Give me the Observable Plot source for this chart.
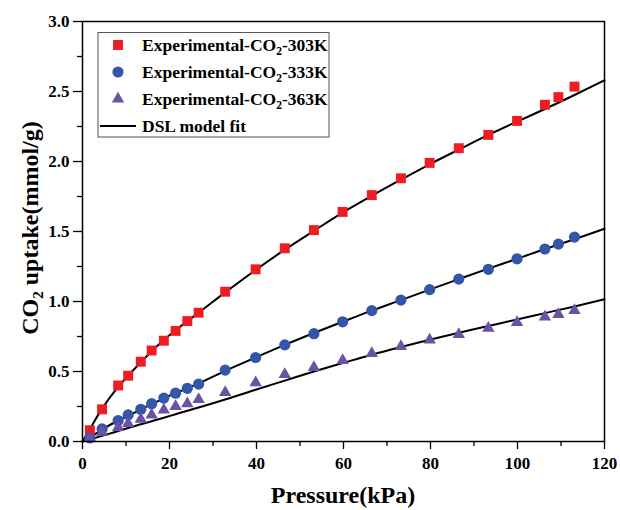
<!DOCTYPE html>
<html><head><meta charset="utf-8">
<script src="https://cdn.jsdelivr.net/npm/d3@7"></script>
<script src="https://cdn.jsdelivr.net/npm/@observablehq/plot@0.6"></script>
<style>html,body{margin:0;padding:0;background:#fff}</style>
</head><body><div id="chart"></div>
<script>
// Experimental pressures (kPa), shared by the three isotherms
const pressure = [1.7, 4.5, 8.2, 10.5, 13.4, 15.9, 18.7, 21.4, 24.1, 26.7, 32.8, 39.8, 46.5, 53.2, 59.8, 66.5, 73.2, 79.8, 86.5, 93.3, 99.9, 106.3, 109.4, 113.1];
const uptake303 = [0.08, 0.23, 0.40, 0.47, 0.57, 0.65, 0.72, 0.79, 0.86, 0.92, 1.07, 1.23, 1.38, 1.51, 1.64, 1.76, 1.88, 1.99, 2.095, 2.19, 2.29, 2.405, 2.46, 2.535];
const uptake333 = [0.025, 0.09, 0.15, 0.19, 0.23, 0.27, 0.31, 0.345, 0.38, 0.41, 0.51, 0.60, 0.69, 0.77, 0.855, 0.935, 1.01, 1.085, 1.16, 1.23, 1.305, 1.375, 1.41, 1.46];
const uptake363 = [0.025, 0.066, 0.10, 0.13, 0.16, 0.19, 0.225, 0.25, 0.27, 0.30, 0.35, 0.42, 0.48, 0.53, 0.58, 0.63, 0.68, 0.725, 0.765, 0.81, 0.85, 0.89, 0.907, 0.936];

// DSL model fit curves
const fitPressure = [0, 1.7, 4.5, 8.2, 10.5, 13.4, 15.9, 18.7, 21.4, 24.1, 26.7, 32.8, 39.8, 46.5, 53.2, 59.8, 66.5, 73.2, 79.8, 86.5, 93.3, 99.9, 106.3, 113.1, 120];
const fit303 = [0, 0.09, 0.235, 0.39, 0.47, 0.565, 0.645, 0.725, 0.795, 0.86, 0.92, 1.065, 1.225, 1.37, 1.505, 1.635, 1.755, 1.87, 1.98, 2.085, 2.19, 2.285, 2.375, 2.475, 2.58];
const fit333 = [0, 0.028, 0.085, 0.15, 0.185, 0.228, 0.268, 0.308, 0.345, 0.38, 0.415, 0.505, 0.60, 0.69, 0.775, 0.855, 0.935, 1.01, 1.085, 1.16, 1.235, 1.305, 1.375, 1.445, 1.52];
const fit363 = [0, 0.015, 0.04, 0.075, 0.097, 0.123, 0.145, 0.17, 0.195, 0.22, 0.243, 0.30, 0.37, 0.435, 0.50, 0.56, 0.62, 0.675, 0.727, 0.777, 0.825, 0.872, 0.917, 0.965, 1.016];

const xMajor = [0, 20, 40, 60, 80, 100, 120];
const xMinor = [10, 30, 50, 70, 90, 110];
const yMajor = [0, 0.5, 1.0, 1.5, 2.0, 2.5, 3.0];
const yMinor = [0.25, 0.75, 1.25, 1.75, 2.25, 2.75];

const seriesNames = ["303K", "333K", "363K"];
const seriesColors = ["#ee1c25", "#3456a8", "#6a52a4"];
const seriesSymbols = ["square", "circle", "triangle"];
const seriesR = [5.6, 5.6, 4.6];
const uptakes = [uptake303, uptake333, uptake363];
const fits = [fit303, fit333, fit363];

const FONT = "'Liberation Serif', 'Times New Roman', serif";

const pts = uptakes.map(u => pressure.map((p, i) => ({p, u: u[i]})));
const fitRows = fits.map(f => fitPressure.map((p, i) => ({p, u: f[i]})));

const chart = Plot.plot({
  width: 620, height: 510,
  marginLeft: 82, marginRight: 16, marginTop: 21, marginBottom: 69,
  x: {domain: [0, 120]},
  y: {domain: [0, 3]},
  style: {fontFamily: FONT, fontSize: "17px", fontWeight: "bold", color: "#000", background: "#fff"},
  marks: [
    Plot.axisY(yMinor, {tickSize: 5, tickFormat: () => "", label: null, strokeWidth: 1.3}),
    Plot.axisY(yMajor, {tickSize: 9, tickPadding: 4, tickFormat: d3.format(".1f"), label: null, strokeWidth: 1.3}),
    Plot.axisX(xMinor, {tickSize: 5, tickFormat: () => "", label: null, strokeWidth: 1.3}),
    Plot.axisX(xMajor, {tickSize: 8, tickPadding: 7, label: null, strokeWidth: 1.3}),
    ...fitRows.map(rows => Plot.line(rows, {x: "p", y: "u", stroke: "#000", strokeWidth: 2, curve: "monotone-x"})),
    ...pts.map((rows, k) => Plot.dot(rows, {x: "p", y: "u", symbol: seriesSymbols[k], r: seriesR[k], fill: seriesColors[k]})),
    Plot.frame({stroke: "#000", strokeWidth: 1.5})
  ]
});
document.getElementById("chart").appendChild(chart);

const svg = d3.select(chart);

// Axis titles
const yl = svg.append("text")
  .attr("transform", "translate(38,228) rotate(-90)")
  .attr("text-anchor", "middle")
  .attr("font-family", FONT).attr("font-weight", "bold").attr("font-size", 24).attr("fill", "#000");
yl.append("tspan").text("CO");
yl.append("tspan").attr("font-size", 15).attr("dy", 5).text("2");
yl.append("tspan").attr("dy", -5).text(" uptake(mmol/g)");

svg.append("text")
  .attr("x", 343).attr("y", 503)
  .attr("text-anchor", "middle")
  .attr("font-family", FONT).attr("font-weight", "bold").attr("font-size", 24).attr("fill", "#000")
  .text("Pressure(kPa)");

// Legend
const lg = svg.append("g").attr("text-anchor", "start");
lg.append("rect").attr("x", 98).attr("y", 32.5).attr("width", 231).attr("height", 104.5)
  .attr("fill", "#fff").attr("stroke", "#555").attr("stroke-width", 1);
const rowY = [45, 72, 99, 126];
const symMap = {square: d3.symbolSquare, circle: d3.symbolCircle, triangle: d3.symbolTriangle};
seriesNames.forEach((name, k) => {
  const r = seriesR[k];
  lg.append("path")
    .attr("transform", `translate(118,${rowY[k]})`)
    .attr("d", d3.symbol(symMap[seriesSymbols[k]], Math.PI * r * r)())
    .attr("fill", seriesColors[k]);
  const t = lg.append("text").attr("x", 142).attr("y", rowY[k] + 6)
    .attr("text-anchor", "start")
    .attr("font-family", FONT).attr("font-weight", "bold").attr("font-size", 17.5).attr("fill", "#000");
  t.append("tspan").text("Experimental-CO");
  t.append("tspan").attr("font-size", 11.5).attr("dy", 4).text("2");
  t.append("tspan").attr("dy", -4).text("-" + name);
});
lg.append("line").attr("x1", 100).attr("x2", 136).attr("y1", rowY[3]).attr("y2", rowY[3])
  .attr("stroke", "#000").attr("stroke-width", 2);
lg.append("text").attr("x", 142).attr("y", rowY[3] + 6)
  .attr("text-anchor", "start")
  .attr("font-family", FONT).attr("font-weight", "bold").attr("font-size", 17.5).attr("fill", "#000")
  .text("DSL model fit");
</script>
</body></html>
